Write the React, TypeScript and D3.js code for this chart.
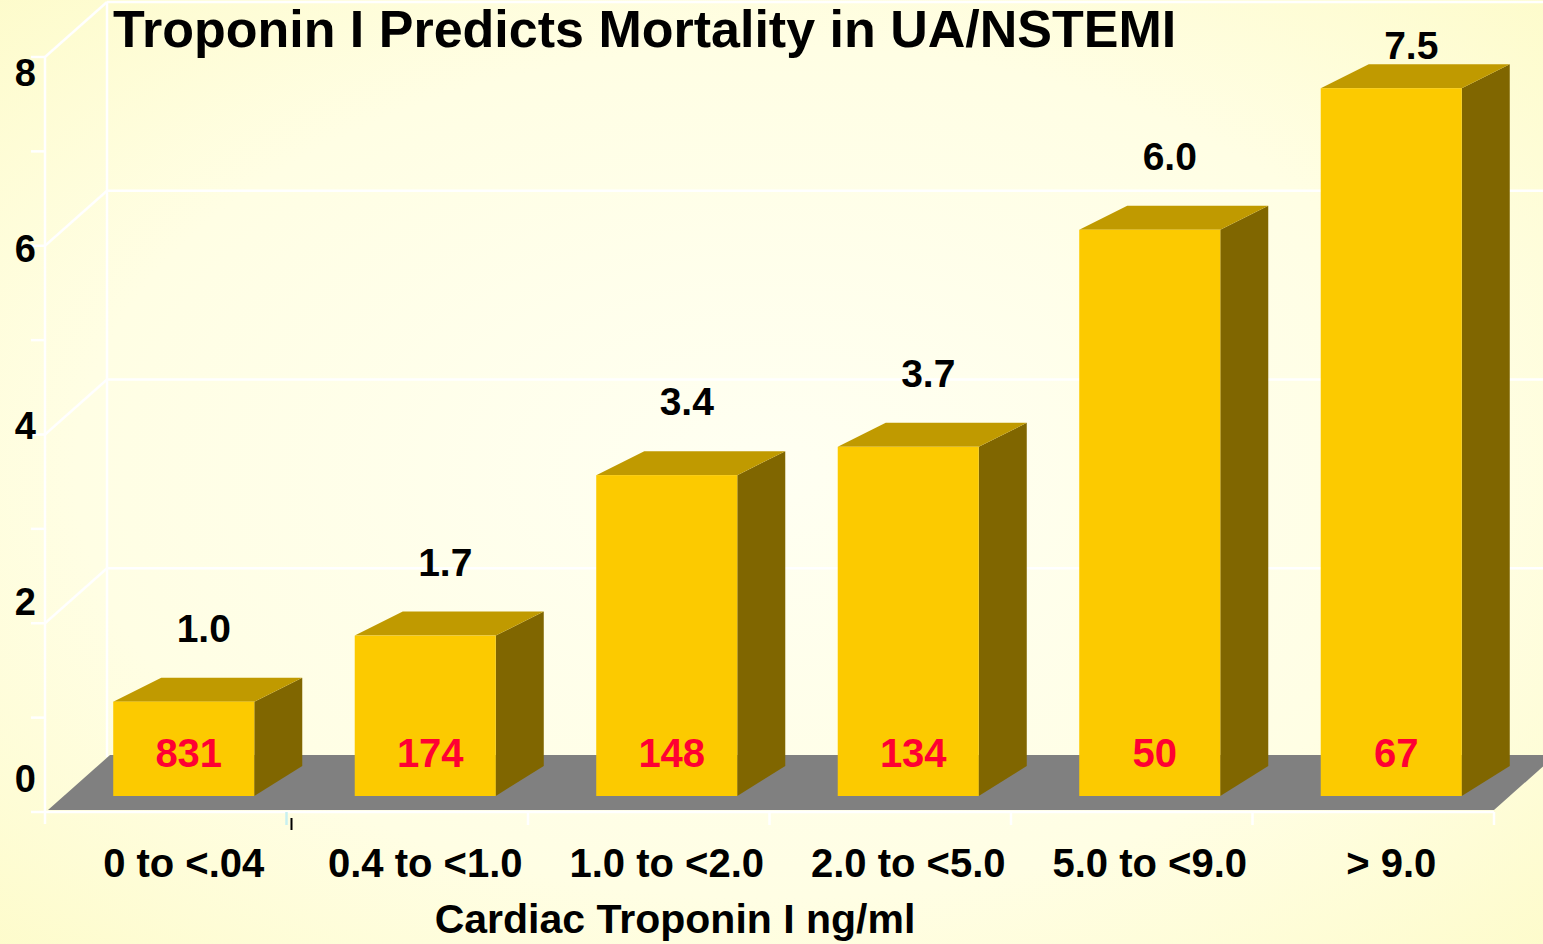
import React from "react";
import * as d3 from "d3";

// chart values
const categories = ["0 to <.04", "0.4 to <1.0", "1.0 to <2.0", "2.0 to <5.0", "5.0 to <9.0", "> 9.0"];
const mortality = [1.0, 1.7, 3.4, 3.7, 6.0, 7.5];
const patients = [831, 174, 148, 134, 50, 67];
const yTicks = [0, 2, 4, 6, 8];
const yMinorTicks = [0, 1, 2, 3, 4, 5, 6, 7, 8];

const W = 1543;
const H = 944;
const FONT = "'Liberation Sans', Arial, sans-serif";

// front plane of the 3d box
const left = 45;
const right = 1494;
const depth = { dx: 62, dy: -55 }; // wall depth
const barShift = { dx: 18, dy: -16 }; // bars sit a bit behind the front plane
const barDepth = { dx: 48, dy: -24 };

const App = () => {
  const x = d3.scaleBand<string>()
    .domain(categories)
    .range([left, right])
    .paddingInner(0.416)
    .paddingOuter(0.208);

  const y = d3.scaleLinear().domain([0, 8]).range([812, 57]);
  // tick labels sit a little off the gridlines in the original
  const yLabel = d3.scaleLinear().domain([0, 8]).range([778, 72]);

  const step = x.step();
  const bounds = d3.range(1, categories.length + 1).map(i => left + step * i);

  const bars = categories.map((c, i) => {
    const bx = (x(c) as number) + barShift.dx;
    const bw = x.bandwidth();
    const top = y(mortality[i]) + barShift.dy;
    const bottom = y(0) + barShift.dy;
    return { c, i, bx, bw, top, bottom };
  });

  const floor = [
    [left + 3, y(0) - 2],
    [right, y(0) - 2],
    [right + depth.dx, y(0) - 2 + depth.dy],
    [left + 3 + depth.dx, y(0) - 2 + depth.dy],
  ];

  return (
    <svg width={W} height={H} style={{ display: "block" }}>
      <style>{`body{margin:0;}`}</style>
      <defs>
        <radialGradient id="bg" cx="50%" cy="50%" r="75%">
          <stop offset="0%" stopColor="#fffff2" />
          <stop offset="60%" stopColor="#fffee4" />
          <stop offset="100%" stopColor="#fdfbc8" />
        </radialGradient>
      </defs>
      <rect width={W} height={H} fill="url(#bg)" />

      {/* back wall + side wall grid */}
      <g stroke="#ffffff" strokeWidth={2.5} fill="none">
        <line x1={left + depth.dx} x2={left + depth.dx} y1={y(8) + depth.dy} y2={y(0) + depth.dy} />
        {yTicks.filter(t => t > 0).map(t => (
          <g key={t}>
            <line x1={left + depth.dx} x2={W} y1={y(t) + depth.dy} y2={y(t) + depth.dy} />
            <line x1={left} x2={left + depth.dx} y1={y(t)} y2={y(t) + depth.dy} />
          </g>
        ))}
        <line x1={left} x2={left} y1={y(8)} y2={y(0) + 12} />
        {yMinorTicks.map(t => (
          <line key={t} x1={left - 14} x2={left} y1={y(t)} y2={y(t)} />
        ))}
        <line x1={left} x2={right} y1={y(0)} y2={y(0)} />
        {bounds.map((b, i) => (
          <line key={i} x1={b} x2={b} y1={y(0)} y2={y(0) + 13} stroke={i === 0 ? "#c8f0f0" : "#ffffff"} />
        ))}
      </g>
      <line x1={bounds[0] + 5} x2={bounds[0] + 5} y1={y(0) + 6} y2={y(0) + 18} stroke="#000" strokeWidth={2} />

      {/* floor */}
      <polygon points={floor.map(p => p.join(",")).join(" ")} fill="#808080" />

      {/* bars */}
      {bars.map(b => (
        <g key={b.c}>
          <polygon
            points={[
              [b.bx + b.bw, b.top],
              [b.bx + b.bw + barDepth.dx, b.top + barDepth.dy],
              [b.bx + b.bw + barDepth.dx, b.bottom - 30],
              [b.bx + b.bw, b.bottom],
            ].map(p => p.join(",")).join(" ")}
            fill="#806600"
          />
          <polygon
            points={[
              [b.bx, b.top],
              [b.bx + barDepth.dx, b.top + barDepth.dy],
              [b.bx + b.bw + barDepth.dx, b.top + barDepth.dy],
              [b.bx + b.bw, b.top],
            ].map(p => p.join(",")).join(" ")}
            fill="#c09a00"
          />
          <rect x={b.bx} y={b.top} width={b.bw} height={b.bottom - b.top} fill="#fcca00" />
          <text
            x={b.bx + b.bw / 2 + 5}
            y={b.bottom - 29}
            textAnchor="middle"
            fontFamily={FONT}
            fontWeight="bold"
            fontSize={40}
            fill="#ff0033"
          >
            {patients[b.i]}
          </text>
          <text
            x={b.bx + b.bw / 2 + 20}
            y={Math.max(59, b.top + barDepth.dy - 36)}
            textAnchor="middle"
            fontFamily={FONT}
            fontWeight="bold"
            fontSize={39}
            fill="#000"
          >
            {mortality[b.i].toFixed(1)}
          </text>
          <text
            x={b.bx + b.bw / 2}
            y={877}
            textAnchor="middle"
            fontFamily={FONT}
            fontWeight="bold"
            fontSize={40}
            fill="#000"
          >
            {b.c}
          </text>
        </g>
      ))}

      {/* y axis labels */}
      {yTicks.map(t => (
        <text
          key={t}
          x={36}
          y={yLabel(t)}
          dy="0.36em"
          textAnchor="end"
          fontFamily={FONT}
          fontWeight="bold"
          fontSize={38}
          fill="#000"
        >
          {t}
        </text>
      ))}

      <text x={113} y={47} fontFamily={FONT} fontWeight="bold" fontSize={52} fill="#000">
        Troponin I Predicts Mortality in UA/NSTEMI
      </text>
      <text x={675} y={933} textAnchor="middle" fontFamily={FONT} fontWeight="bold" fontSize={41} fill="#000">
        Cardiac Troponin I ng/ml
      </text>
    </svg>
  );
};

export default App;
